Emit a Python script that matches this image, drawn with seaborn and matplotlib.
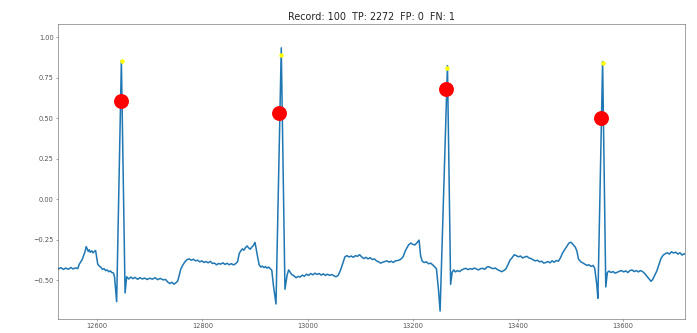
import numpy as np
import pandas as pd
import matplotlib
matplotlib.use("Agg")
import matplotlib.pyplot as plt
import seaborn as sns

# ---- ECG trace (sample index, amplitude) ----
seg_a_x = [12526, 12531, 12536, 12540, 12545, 12550, 12554, 12559, 12563, 12566, 12569, 12572,
           12575, 12577, 12579, 12581, 12583, 12585, 12587, 12590, 12592, 12595, 12597, 12599,
           12601, 12604, 12607, 12610, 12613, 12616, 12619, 12622, 12625, 12628, 12631, 12633,
           12635, 12637, 12646, 12653]
seg_a_y = [-0.430, -0.422, -0.433, -0.424, -0.432, -0.421, -0.430, -0.423, -0.428, -0.400, -0.385, -0.368,
           -0.340, -0.322, -0.292, -0.305, -0.322, -0.312, -0.327, -0.318, -0.330, -0.322, -0.316, -0.360,
           -0.400, -0.412, -0.420, -0.432, -0.428, -0.440, -0.436, -0.447, -0.442, -0.452, -0.455, -0.480,
           -0.560, -0.632, 0.856, -0.578]

seg_b_x = [12656, 12660, 12664, 12668, 12672, 12677, 12681, 12686, 12690, 12695, 12700, 12705,
           12710, 12715, 12720, 12725, 12730, 12734, 12738, 12742, 12746, 12750, 12753, 12756,
           12759, 12763, 12767, 12771, 12775, 12779, 12783, 12787, 12791, 12795, 12799, 12803,
           12807, 12811, 12815, 12819, 12823, 12827, 12831, 12835, 12839, 12843, 12847, 12851,
           12855, 12859, 12863, 12867, 12870, 12873, 12876, 12879, 12882, 12885, 12888, 12891,
           12894, 12897, 12900, 12902, 12905, 12908, 12911, 12914, 12917, 12920, 12923, 12926,
           12929, 12932, 12935, 12940, 12950, 12957]
seg_b_y = [-0.478, -0.492, -0.480, -0.490, -0.482, -0.494, -0.484, -0.492, -0.486, -0.495, -0.487, -0.493,
           -0.484, -0.496, -0.488, -0.497, -0.495, -0.510, -0.520, -0.512, -0.524, -0.514, -0.505, -0.470,
           -0.430, -0.405, -0.385, -0.372, -0.368, -0.376, -0.370, -0.380, -0.376, -0.386, -0.380, -0.390,
           -0.384, -0.392, -0.383, -0.396, -0.394, -0.404, -0.396, -0.400, -0.392, -0.402, -0.395, -0.404,
           -0.397, -0.405, -0.398, -0.385, -0.335, -0.318, -0.306, -0.314, -0.298, -0.288, -0.300, -0.308,
           -0.295, -0.285, -0.266, -0.300, -0.355, -0.405, -0.418, -0.412, -0.422, -0.415, -0.425, -0.418,
           -0.428, -0.438, -0.530, -0.646, 0.935, -0.555]

seg_c_x = [12961, 12964, 12967, 12970, 12974, 12978, 12982, 12986, 12990, 12994, 12998, 13002,
           13006, 13010, 13014, 13018, 13022, 13026, 13030, 13034, 13038, 13042, 13046, 13050,
           13054, 13058, 13061, 13064, 13068, 13071, 13075, 13079, 13083, 13087, 13091, 13095,
           13099, 13103, 13107, 13111, 13115, 13119, 13123, 13127, 13131, 13135, 13139, 13143,
           13147, 13151, 13155, 13159, 13163, 13167, 13171, 13175, 13179, 13182, 13185, 13188,
           13192, 13196, 13200, 13204, 13208, 13212, 13215, 13218, 13222, 13226, 13230, 13234,
           13238, 13242, 13245, 13249, 13252, 13266, 13272]
seg_c_y = [-0.470, -0.436, -0.450, -0.465, -0.472, -0.484, -0.476, -0.480, -0.468, -0.475, -0.462, -0.470,
           -0.458, -0.466, -0.456, -0.464, -0.458, -0.468, -0.460, -0.470, -0.462, -0.470, -0.464, -0.472,
           -0.478, -0.470, -0.450, -0.425, -0.385, -0.355, -0.348, -0.356, -0.350, -0.358, -0.348, -0.352,
           -0.342, -0.356, -0.366, -0.358, -0.368, -0.360, -0.372, -0.368, -0.380, -0.386, -0.394, -0.388,
           -0.384, -0.380, -0.388, -0.382, -0.390, -0.380, -0.378, -0.374, -0.365, -0.352, -0.325, -0.305,
           -0.282, -0.270, -0.278, -0.282, -0.268, -0.252, -0.350, -0.382, -0.390, -0.386, -0.398, -0.394,
           -0.405, -0.418, -0.428, -0.560, -0.690, 0.825, -0.525]

seg_d_x = [13275, 13278, 13281, 13285, 13289, 13293, 13297, 13301, 13305, 13309, 13313, 13317,
           13321, 13325, 13329, 13333, 13337, 13341, 13345, 13349, 13353, 13357, 13361, 13365,
           13369, 13373, 13377, 13381, 13385, 13389, 13393, 13397, 13401, 13405, 13409, 13413,
           13417, 13421, 13425, 13429, 13433, 13437, 13441, 13445, 13449, 13453, 13457, 13461,
           13465, 13469, 13473, 13477, 13481, 13485, 13489, 13493, 13497, 13501, 13505, 13509,
           13512, 13515, 13519, 13523, 13527, 13531, 13535, 13539, 13543, 13546, 13550, 13552,
           13561, 13567]
seg_d_y = [-0.450, -0.436, -0.448, -0.440, -0.446, -0.436, -0.430, -0.426, -0.434, -0.428, -0.432, -0.424,
           -0.430, -0.436, -0.428, -0.426, -0.432, -0.418, -0.416, -0.424, -0.428, -0.424, -0.434, -0.440,
           -0.447, -0.440, -0.430, -0.404, -0.375, -0.360, -0.342, -0.348, -0.355, -0.350, -0.362, -0.356,
           -0.352, -0.362, -0.366, -0.374, -0.380, -0.376, -0.386, -0.382, -0.394, -0.390, -0.384, -0.392,
           -0.380, -0.388, -0.378, -0.382, -0.360, -0.330, -0.310, -0.290, -0.270, -0.265, -0.280, -0.295,
           -0.318, -0.368, -0.384, -0.392, -0.400, -0.408, -0.404, -0.414, -0.408, -0.426, -0.530, -0.611,
           0.850, -0.541]

seg_e_x = [13570, 13573, 13577, 13581, 13585, 13589, 13593, 13597, 13601, 13605, 13609, 13613,
           13617, 13621, 13625, 13629, 13633, 13637, 13641, 13645, 13649, 13653, 13656, 13660,
           13664, 13668, 13672, 13676, 13680, 13684, 13688, 13692, 13696, 13700, 13704, 13708,
           13712, 13716, 13718]
seg_e_y = [-0.452, -0.443, -0.452, -0.446, -0.456, -0.450, -0.444, -0.440, -0.448, -0.442, -0.452, -0.440,
           -0.436, -0.446, -0.440, -0.448, -0.440, -0.446, -0.458, -0.474, -0.490, -0.506, -0.496, -0.470,
           -0.443, -0.405, -0.365, -0.345, -0.336, -0.330, -0.338, -0.324, -0.332, -0.326, -0.338, -0.330,
           -0.344, -0.336, -0.340]

# ---- annotated R peaks (yellow) and detected beats (red) ----
true_peak_x = [12647, 12949, 13266, 13561]
true_peak_y = [0.852, 0.889, 0.812, 0.839]
detected_x = [12645, 12946, 13264, 13558]
detected_y = [0.607, 0.531, 0.681, 0.500]

x_ticks = [12600, 12800, 13000, 13200, 13400, 13600]
y_ticks = [-0.50, -0.25, 0.00, 0.25, 0.50, 0.75, 1.00]
title = "Record: 100  TP: 2272  FP: 0  FN: 1"
x_range = (12526, 13717)
y_range = (-0.737, 1.080)

signal = pd.DataFrame({
    "sample": seg_a_x + seg_b_x + seg_c_x + seg_d_x + seg_e_x,
    "amplitude": seg_a_y + seg_b_y + seg_c_y + seg_d_y + seg_e_y,
})
truth = pd.DataFrame({"sample": true_peak_x, "amplitude": true_peak_y})
detected = pd.DataFrame({"sample": detected_x, "amplitude": detected_y})

fig = plt.figure(figsize=(697 / 48, 333 / 48), dpi=48)
ax = fig.add_axes([0.0836, 0.0429, 0.8987, 0.8841])

sns.lineplot(data=signal, x="sample", y="amplitude", ax=ax, color="#1f77b4",
             linewidth=2.3, sort=False, estimator=None, zorder=2)
sns.scatterplot(data=truth, x="sample", y="amplitude", ax=ax, color="yellow",
                s=45, linewidth=0, zorder=3)
sns.scatterplot(data=detected, x="sample", y="amplitude", ax=ax, color="red",
                s=500, linewidth=0, zorder=4)

ax.set_xlim(*x_range)
ax.set_ylim(*y_range)
ax.set_xticks(x_ticks)
ax.set_yticks(y_ticks)
ax.set_xticklabels([str(v) for v in x_ticks], color="#333333")
ax.set_yticklabels([f"{v:.2f}".replace("-", "\u2212") for v in y_ticks], color="#333333")
ax.tick_params(colors="#555555")
for sp in ax.spines.values():
    sp.set_edgecolor("#555555")
ax.set_xlabel("")
ax.set_ylabel("")
ax.set_title(title, fontsize=14.5, color="#222222")

fig.savefig("out.png", dpi=48)
